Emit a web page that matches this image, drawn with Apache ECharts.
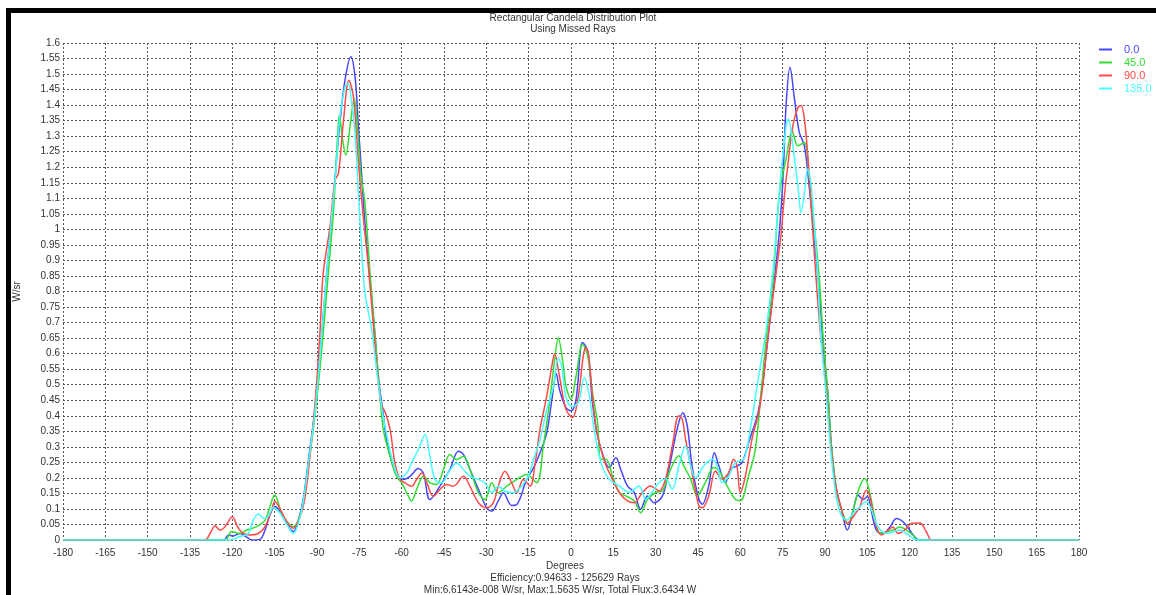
<!DOCTYPE html>
<html>
<head>
<meta charset="utf-8">
<title>Rectangular Candela Distribution Plot</title>
<script src="https://cdn.jsdelivr.net/npm/echarts@6/dist/echarts.min.js"></script>
<style>
  html, body { margin: 0; padding: 0; background: #fff; }
  #chart { width: 1156px; height: 595px; }
</style>
</head>
<body>
<div id="chart"></div>
<script>
// Angular profile of intensity (W/sr) for four azimuth planes, as [degrees, W/sr]
const seriesNames = ['0.0', '45.0', '90.0', '135.0'];
const seriesColors = ['#4646ff', '#33dd33', '#ff4a4a', '#46ffff'];

const plane0 = [
  [-180,0],[-123,0],[-121.4,0.016],[-119.7,0.013],[-117.3,0.021],[-114.9,0.009],[-113,0],[-110.2,0.002],
  [-108.4,0.032],[-106.7,0.08],[-104.9,0.108],[-103.1,0.092],[-100.7,0.054],[-98.4,0.027],[-96.6,0.064],
  [-94.9,0.13],[-93,0.26],[-91,0.4],[-89.5,0.54],[-88.3,0.665],[-86.6,0.858],[-84.8,1.04],[-83.3,1.2],
  [-81.9,1.341],[-80.1,1.48],[-78,1.556],[-76.5,1.49],[-75.4,1.341],[-74.2,1.18],[-73,1.019],[-71.2,0.837],
  [-69.5,0.665],[-68.2,0.52],[-66.6,0.41],[-65.3,0.32],[-63.5,0.25],[-61.8,0.21],[-59.4,0.195],[-57,0.205],
  [-54.1,0.23],[-52.3,0.215],[-50,0.13],[-46.4,0.174],[-42.9,0.227],[-39.9,0.286],[-38.1,0.275],[-35.8,0.227],
  [-32.8,0.163],[-29.9,0.104],[-28.1,0.093],[-25.8,0.125],[-24,0.152],[-21,0.111],[-19.2,0.114],[-15.7,0.195],
  [-13.3,0.232],[-11,0.28],[-8.6,0.345],[-6.8,0.45],[-5.2,0.535],[-4.1,0.485],[-1.8,0.426],[0,0.416],
  [1.8,0.453],[4.1,0.636],[5.9,0.609],[7.6,0.442],[9.4,0.335],[11.8,0.26],[13.5,0.233],[15.9,0.265],
  [17.6,0.228],[20,0.174],[22.4,0.153],[24.7,0.099],[27.1,0.142],[29.4,0.12],[32.4,0.142],[34.7,0.228],
  [37.6,0.357],[39.6,0.41],[41.2,0.367],[42.9,0.238],[45.3,0.131],[46.5,0.115],[48.8,0.174],[50.8,0.281],
  [52.4,0.238],[54.7,0.185],[56.5,0.228],[58.8,0.238],[60.6,0.249],[62.9,0.313],[66.5,0.42],[69.8,0.65],
  [72.1,0.839],[73.9,1.0],[75.1,1.161],[76.2,1.398],[77.6,1.522],[79.2,1.419],[80.9,1.312],[82.7,1.269],
  [84.5,1.129],[86.2,0.968],[88,0.796],[89.2,0.645],[91.1,0.462],[92.3,0.3],[94.1,0.16],[95.9,0.096],
  [97.9,0.032],[100,0.096],[101.7,0.145],[103.5,0.13],[105,0.14],[106.5,0.09],[108.2,0.032],[110.6,0.021],
  [113,0.042],[115.3,0.069],[117.7,0.058],[120,0.032],[121.8,0.01],[123.6,0],[180,0]
];

const plane45 = [
  [-180,0],[-122.6,0],[-120.3,0.027],[-117.3,0.021],[-114.9,0.032],[-111.4,0.043],[-108.4,0.064],
  [-106.7,0.107],[-105,0.145],[-102.5,0.086],[-100.2,0.054],[-98.4,0.043],[-96.6,0.064],[-94.9,0.118],
  [-93,0.24],[-91,0.38],[-89.3,0.52],[-87.8,0.665],[-86,0.858],[-84.2,1.052],[-82.8,1.287],[-82.1,1.368],
  [-80.9,1.287],[-79.8,1.239],[-78.3,1.33],[-76.8,1.422],[-75.7,1.33],[-74.5,1.18],[-73,1.084],[-71.2,0.858],
  [-69.5,0.665],[-68,0.5],[-66.5,0.355],[-64.1,0.27],[-61.8,0.205],[-60,0.184],[-57.6,0.141],[-56.5,0.125],
  [-54.7,0.163],[-52.3,0.205],[-49.9,0.184],[-47.6,0.179],[-45.2,0.227],[-42.9,0.275],[-40.5,0.259],
  [-38.1,0.27],[-35.8,0.227],[-32.8,0.152],[-30.5,0.13],[-28.1,0.184],[-25.8,0.152],[-22.8,0.173],
  [-19.2,0.195],[-15.7,0.211],[-12.2,0.184],[-9.8,0.302],[-7.5,0.452],[-5.8,0.58],[-4.5,0.65],[-3,0.58],
  [-1.8,0.496],[0,0.453],[1.8,0.528],[4.1,0.63],[5.9,0.593],[7.6,0.475],[9.4,0.378],[10.6,0.26],[12.4,0.26],
  [14.7,0.206],[17.1,0.153],[19.4,0.142],[22.4,0.126],[24.7,0.088],[27.1,0.131],[30,0.153],[32.4,0.158],
  [35.3,0.228],[38.2,0.271],[40,0.238],[42.4,0.196],[44.7,0.142],[47.6,0.185],[50.6,0.233],[52.9,0.217],
  [55.3,0.174],[58.2,0.131],[60,0.126],[62.9,0.206],[65.3,0.292],[67.3,0.47],[69.2,0.65],[71.5,0.828],
  [73.9,1.118],[76.2,1.226],[78.4,1.317],[80.4,1.269],[82.7,1.28],[84.5,1.161],[86.2,1.011],[88,0.839],
  [89.4,0.645],[91.1,0.462],[92.3,0.3],[94.1,0.16],[95.9,0.096],[98.2,0.053],[100.6,0.118],[102.3,0.172],
  [104.1,0.198],[105.9,0.15],[107.6,0.075],[109.4,0.021],[111.8,0.026],[114.1,0.032],[116.5,0.042],
  [118.8,0.032],[121.2,0.016],[123,0],[180,0]
];

const plane90 = [
  [-180,0],[-129.7,0],[-127.9,0.021],[-126.1,0.046],[-124.4,0.032],[-122.6,0.043],[-120,0.075],
  [-117.9,0.038],[-116.1,0.021],[-113.7,0.016],[-110.8,0.021],[-108.4,0.043],[-106.1,0.096],[-104.9,0.125],
  [-103.1,0.1],[-100.7,0.059],[-98.4,0.038],[-96,0.075],[-94.3,0.135],[-92.5,0.27],[-90.5,0.46],
  [-88.9,0.676],[-87.8,0.858],[-85.4,1.008],[-83.6,1.159],[-82.4,1.18],[-80.7,1.341],[-78.7,1.48],
  [-77.1,1.427],[-75.4,1.223],[-73.6,1.04],[-71.8,0.88],[-70,0.687],[-68.5,0.53],[-67.3,0.44],[-65.8,0.41],
  [-64.1,0.356],[-62.4,0.248],[-60.6,0.195],[-58.8,0.184],[-56.5,0.173],[-54.7,0.195],[-52.9,0.216],
  [-51.1,0.184],[-48.8,0.141],[-46.4,0.163],[-44.1,0.179],[-41.7,0.173],[-38.1,0.205],[-35.8,0.173],
  [-32.8,0.12],[-29.9,0.104],[-27.5,0.12],[-25.8,0.173],[-23.4,0.221],[-21,0.184],[-19.2,0.152],
  [-16.9,0.195],[-14.5,0.173],[-12.7,0.248],[-11,0.356],[-8.6,0.463],[-6.8,0.56],[-5.8,0.6],[-4.1,0.528],
  [-1.8,0.421],[0.6,0.394],[2.4,0.453],[5.3,0.62],[6.2,0.6],[7.6,0.464],[8.8,0.367],[10.6,0.292],
  [12.4,0.24],[14.7,0.196],[17.1,0.153],[20,0.126],[22.4,0.12],[25.3,0.153],[28.2,0.174],[31.2,0.158],
  [33.5,0.196],[35.9,0.303],[38.2,0.4],[39.4,0.39],[40.6,0.324],[42.9,0.217],[45.3,0.11],[46.5,0.104],
  [48.8,0.142],[51.2,0.222],[53.5,0.196],[55.9,0.217],[57.6,0.26],[58.8,0.238],[60,0.153],[61.8,0.206],
  [64.1,0.324],[66.5,0.41],[68,0.5],[69.5,0.63],[71.5,0.78],[73.3,0.903],[74.5,0.99],[75.6,1.107],
  [76.8,1.204],[78.6,1.333],[80.4,1.392],[81.5,1.398],[82.7,1.355],[83.9,1.237],[85.1,1.075],[86.2,0.925],
  [87.4,0.774],[88.6,0.645],[90.5,0.48],[91.8,0.33],[93.5,0.19],[95.5,0.11],[97.9,0.053],[100,0.075],
  [102.3,0.107],[104.7,0.16],[105.9,0.14],[107.6,0.064],[110,0.016],[112.4,0.032],[114.1,0.042],
  [115.9,0.021],[118.2,0.032],[120.6,0.053],[123.6,0.055],[126,0.025],[127.8,0],[180,0]
];

const plane135 = [
  [-180,0],[-121,0],[-117.3,0.011],[-114.3,0.021],[-112.6,0.064],[-110.8,0.084],[-109,0.07],[-107.3,0.075],
  [-105.5,0.105],[-103.1,0.086],[-100.2,0.043],[-98.4,0.021],[-96.6,0.054],[-94.9,0.123],[-93,0.25],
  [-91,0.39],[-89.5,0.53],[-88.3,0.665],[-86.6,0.858],[-84.8,1.04],[-83.3,1.19],[-81.9,1.363],[-80.1,1.459],
  [-79,1.47],[-77.8,1.416],[-76.6,1.32],[-75.4,1.127],[-74.2,0.944],[-73,0.794],[-70.6,0.676],[-68.5,0.52],
  [-66.8,0.41],[-65.9,0.366],[-63,0.248],[-60.6,0.2],[-58.2,0.216],[-56.5,0.248],[-54.1,0.291],[-51.7,0.34],
  [-50,0.27],[-48.2,0.195],[-45.8,0.184],[-43.5,0.216],[-40.5,0.248],[-38.1,0.227],[-35.8,0.205],
  [-32.8,0.195],[-30.5,0.184],[-28.1,0.152],[-25.8,0.173],[-23.4,0.157],[-20.4,0.152],[-17.5,0.173],
  [-15.1,0.205],[-13.1,0.264],[-11,0.323],[-8.6,0.42],[-6.2,0.494],[-4.6,0.585],[-3.3,0.56],[-1.8,0.46],
  [0.3,0.43],[2.5,0.44],[4.7,0.523],[6.5,0.464],[8.2,0.356],[10.6,0.25],[13.5,0.196],[17.1,0.174],
  [20.6,0.153],[24.1,0.174],[26.5,0.131],[28.5,0.15],[31.2,0.185],[33.5,0.196],[35.9,0.163],[38.2,0.238],
  [40.6,0.303],[42.4,0.238],[44.1,0.2],[47,0.238],[50,0.26],[51.8,0.238],[53.5,0.185],[55.9,0.206],
  [58.2,0.249],[61.2,0.26],[63.5,0.356],[66.5,0.528],[69.2,0.68],[71.5,0.86],[73.9,1.129],[76.2,1.333],
  [77,1.355],[78.6,1.269],[80.4,1.14],[81.5,1.054],[82.7,1.118],[83.9,1.194],[85.1,1.14],[86.2,1.011],
  [87.4,0.86],[88.6,0.645],[90.5,0.46],[92,0.29],[93.8,0.15],[95.5,0.085],[97.6,0.064],[100,0.086],
  [102.3,0.107],[104.7,0.123],[106.5,0.096],[108.8,0.042],[111.8,0.021],[114.1,0.026],[116.5,0.032],
  [118.8,0.021],[121.2,0.005],[122.4,0],[180,0]
];

const planes = [plane0, plane45, plane90, plane135];

const titleLines = ['Rectangular Candela Distribution Plot', 'Using Missed Rays'];
const footerLines = ['Degrees', 'Efficiency:0.94633 - 125629 Rays',
  'Min:6.6143e-008 W/sr, Max:1.5635 W/sr, Total Flux:3.6434 W'];
const yAxisName = 'W/sr';

const font = 'Liberation Sans, Arial, sans-serif';
const textColor = '#333';
const gridLine = { type: [2, 2], color: '#555', width: 1 };

const chart = echarts.init(document.getElementById('chart'), null, { renderer: 'canvas' });

const option = {
  animation: false,
  backgroundColor: '#fff',
  textStyle: { fontFamily: font },
  grid: { left: 63, right: 77, top: 43, bottom: 55, containLabel: false },
  legend: {
    orient: 'vertical',
    left: 1094,
    top: 39,
    icon: 'rect',
    itemWidth: 13,
    itemHeight: 2,
    itemGap: 2,
    textStyle: { fontSize: 11, fontFamily: font, padding: [0, 0, 0, 7] },
    data: seriesNames.map((n, i) => ({ name: n, textStyle: { color: seriesColors[i] } }))
  },
  xAxis: {
    type: 'value',
    min: -180,
    max: 180,
    interval: 15,
    axisLine: { show: false },
    axisTick: { show: false },
    axisLabel: { fontSize: 10, color: textColor, margin: 8, fontFamily: font },
    splitLine: { show: true, lineStyle: gridLine }
  },
  yAxis: {
    type: 'value',
    min: 0,
    max: 1.6,
    interval: 0.05,
    name: yAxisName,
    nameLocation: 'middle',
    nameRotate: 90,
    nameGap: 41,
    nameTextStyle: { fontSize: 10, color: textColor, fontFamily: font },
    axisLine: { show: false },
    axisTick: { show: false },
    axisLabel: {
      fontSize: 10, color: textColor, margin: 3, fontFamily: font,
      formatter: v => String(parseFloat(v.toFixed(2)))
    },
    splitLine: { show: true, lineStyle: gridLine }
  },
  series: planes.map((d, i) => ({
    name: seriesNames[i],
    type: 'line',
    data: d,
    smooth: 0.35,
    showSymbol: false,
    symbol: 'none',
    lineStyle: { color: seriesColors[i], width: 1.5 },
    itemStyle: { color: seriesColors[i] },
    z: 2 + i
  })),
  graphic: [
    // frame edges along the top and left
    { type: 'rect', shape: { x: 6, y: 8, width: 1150, height: 5 }, style: { fill: '#000' }, z: 10 },
    { type: 'rect', shape: { x: 6, y: 8, width: 5, height: 587 }, style: { fill: '#000' }, z: 10 },
    { type: 'text', x: 573, y: 18, style: { text: titleLines[0], font: '10px ' + font, fill: textColor, textAlign: 'center', textVerticalAlign: 'middle' } },
    { type: 'text', x: 573, y: 29, style: { text: titleLines[1], font: '10px ' + font, fill: textColor, textAlign: 'center', textVerticalAlign: 'middle' } },
    { type: 'text', x: 565, y: 566, style: { text: footerLines[0], font: '10px ' + font, fill: textColor, textAlign: 'center', textVerticalAlign: 'middle' } },
    { type: 'text', x: 565, y: 578, style: { text: footerLines[1], font: '10px ' + font, fill: textColor, textAlign: 'center', textVerticalAlign: 'middle' } },
    { type: 'text', x: 560, y: 590, style: { text: footerLines[2], font: '10px ' + font, fill: textColor, textAlign: 'center', textVerticalAlign: 'middle' } }
  ]
};

chart.setOption(option);
</script>
</body>
</html>
